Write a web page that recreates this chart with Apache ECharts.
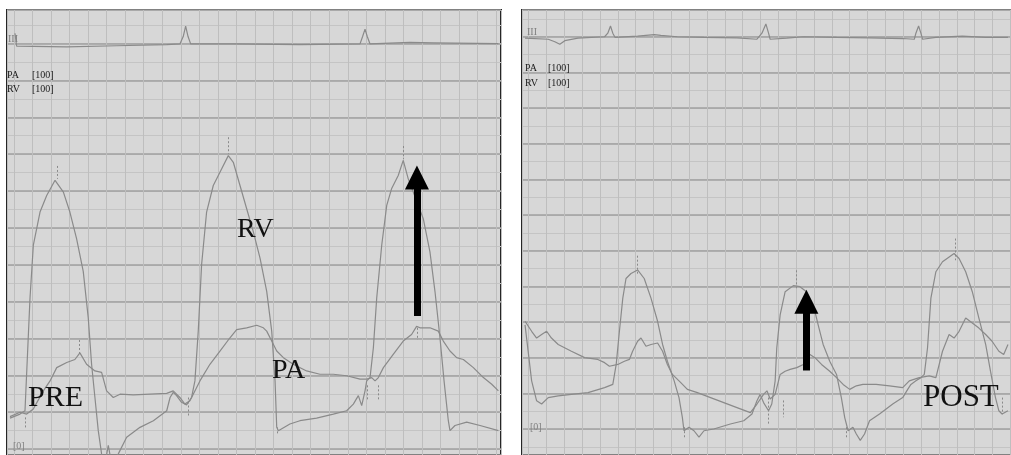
<!DOCTYPE html>
<html>
<head>
<meta charset="utf-8">
<script src="https://cdn.jsdelivr.net/npm/echarts@6/dist/echarts.min.js"></script>
<style>
  html, body { margin: 0; padding: 0; background: #fff; }
  #chart { width: 1011px; height: 455px; }
</style>
</head>
<body>
<div id="chart"></div>
<script>
// time in small squares, pressure in mmHg (ECG drawn on the same scale above 100)
const preEcg = [[0.06,112.8],[0.15,109.3],[2.85,109.1],[5.54,109.4],[8.24,109.7],[8.95,109.9],[9.13,111.9],[9.26,114.7],[9.39,111.9],[9.53,109.9],[11.83,109.9],[15.42,109.7],[18.66,109.9],[18.80,111.9],[18.93,113.9],[19.05,111.9],[19.20,109.9],[21.35,110.3],[22.61,110.2],[26.12,110.0]];
const preRv = [[-0.21,8.4],[0.33,9.5],[0.60,10.4],[0.87,41.0],[1.05,55.3],[1.41,64.3],[1.77,68.8],[2.22,72.9],[2.31,73.3],[2.67,69.7],[3.02,64.3],[3.38,57.1],[3.74,48.2],[4.01,35.6],[4.19,23.0],[4.37,14.0],[4.55,5.0],[4.73,-1.3],[4.91,-4],[5.09,1.0],[5.27,-4],[5.63,-1.3],[6.08,3.2],[6.80,5.9],[7.52,7.7],[8.24,10.4],[8.42,14.0],[8.59,15.4],[8.77,14.5],[9.04,12.7],[9.31,12.0],[9.58,14.0],[9.76,18.5],[9.94,32.0],[10.12,50.0],[10.39,64.3],[10.75,71.5],[11.11,75.1],[11.56,79.6],[11.83,77.8],[12.19,71.5],[12.55,65.2],[12.91,58.9],[13.27,51.8],[13.63,42.8],[13.90,32.0],[14.08,18.5],[14.17,5.9],[14.26,5.0],[14.88,6.8],[15.42,7.7],[16.32,8.4],[17.22,9.5],[17.94,10.4],[18.30,12.2],[18.57,14.5],[18.75,11.8],[18.93,15.8],[19.02,18.5],[19.20,19.4],[19.38,27.5],[19.56,41.0],[19.83,55.3],[20.10,66.1],[20.36,70.6],[20.72,74.2],[20.99,78.3],[21.26,73.3],[21.53,69.7],[22.07,62.5],[22.43,53.5],[22.70,42.8],[22.97,30.2],[23.19,18.5],[23.42,7.7],[23.51,5.0],[23.78,6.4],[24.41,7.3],[25.13,6.4],[26.12,5.0]];
const prePa = [[-0.21,8.8],[0.33,10.0],[0.69,9.5],[1.05,10.9],[1.59,15.8],[1.95,18.5],[2.31,22.1],[2.85,23.5],[3.29,24.3],[3.56,26.1],[3.92,23.0],[4.37,21.2],[4.73,20.8],[5.00,15.8],[5.36,14.0],[5.72,14.9],[6.44,14.7],[7.34,14.9],[8.24,15.1],[8.59,15.8],[8.95,14.0],[9.22,12.2],[9.49,13.1],[9.67,14.9],[10.03,18.5],[10.57,23.0],[11.11,26.6],[11.65,30.2],[12.01,32.4],[12.55,32.9],[13.09,33.6],[13.45,32.9],[13.63,32.0],[13.90,29.3],[14.17,26.6],[14.53,24.8],[15.06,23.0],[15.78,21.2],[16.50,20.3],[17.22,20.3],[17.94,19.9],[18.66,19.0],[19.02,19.0],[19.29,19.4],[19.47,18.5],[19.65,19.4],[19.92,22.1],[20.45,25.7],[20.99,29.3],[21.44,31.1],[21.71,33.3],[21.89,32.9],[22.43,32.9],[22.88,32.0],[23.15,29.3],[23.51,26.6],[23.87,24.8],[24.23,24.3],[24.77,22.1],[25.31,19.4],[25.76,17.6],[26.12,15.8]];
const preArrow = [[21.73,36.1],[21.73,73.7]];
// dotted peak / trough markers: [time, from, to]
const preMarks = [[2.32,76.8,73.3],[11.54,84.6,80.1],[20.97,82.2,78.7],[3.51,29.6,25.6],[21.73,32.9,29.6],[9.39,14.0,8.6],[19.03,17.3,13.5],[19.63,17.3,13.5],[0.60,8.6,5.4],[14.18,5.9,4.0]];

const postEcg = [[-0.20,109.6],[1.10,109.3],[1.47,108.6],[1.75,107.9],[2.03,108.9],[2.77,109.6],[4.26,110.0],[4.44,111.0],[4.59,113.0],[4.72,111.0],[4.85,109.8],[6.11,110.2],[7.04,110.6],[7.41,110.4],[8.34,110.0],[9.83,109.8],[11.68,109.7],[12.80,109.3],[13.08,111.0],[13.30,113.6],[13.45,111.0],[13.54,109.3],[14.47,109.6],[15.40,110.0],[17.26,109.8],[19.11,109.7],[20.97,109.5],[21.62,109.3],[21.71,111.0],[21.86,113.0],[21.99,111.0],[22.08,109.3],[22.83,109.8],[24.31,110.2],[25.62,109.8],[26.87,109.8]];
const postRv = [[-0.20,29.2],[0.17,13.5],[0.45,7.9],[0.73,7.0],[1.10,8.8],[1.66,9.3],[2.40,9.7],[3.33,10.2],[4.26,11.6],[4.72,12.5],[4.91,18.1],[5.09,27.4],[5.28,36.7],[5.46,42.2],[5.74,43.6],[6.11,44.6],[6.48,42.2],[6.86,36.7],[7.23,30.2],[7.51,23.7],[7.78,19.0],[8.16,13.5],[8.43,8.8],[8.62,3.2],[8.71,-0.5],[8.99,0.5],[9.27,-0.5],[9.55,-2.3],[9.83,-0.5],[10.38,0],[11.31,1.4],[12.06,2.3],[12.52,4.2],[12.80,7.9],[12.98,9.7],[13.17,7.4],[13.45,5.1],[13.63,7.0],[13.82,13.5],[13.91,22.7],[14.10,32.0],[14.38,38.5],[14.84,40.2],[15.21,39.9],[15.58,38.5],[15.96,34.8],[16.23,29.2],[16.51,23.7],[16.88,19.0],[17.26,15.3],[17.53,8.8],[17.72,3.2],[17.91,-0.5],[18.18,0.5],[18.37,-1.4],[18.59,-3.2],[18.83,-1.4],[19.11,2.3],[19.67,4.2],[20.41,7.0],[20.97,8.8],[21.25,11.1],[21.43,12.5],[21.71,13.5],[21.99,14.4],[22.18,15.3],[22.36,22.7],[22.55,36.7],[22.83,44.1],[23.20,46.9],[23.85,49.2],[24.13,47.8],[24.50,44.1],[24.87,38.5],[25.24,31.1],[25.62,23.7],[25.89,16.2],[26.17,8.8],[26.36,5.1],[26.54,4.2],[26.87,5.1]];
const postPa = [[-0.20,30.2],[0.17,27.4],[0.45,25.5],[0.73,26.5],[1.01,27.4],[1.28,25.5],[1.66,23.7],[2.40,21.8],[3.14,20.0],[3.88,19.5],[4.26,18.6],[4.53,17.6],[5.00,18.1],[5.37,19.0],[5.65,19.5],[5.83,21.8],[6.11,24.6],[6.30,25.5],[6.58,23.2],[6.86,23.7],[7.23,24.1],[7.51,21.8],[7.78,18.1],[8.06,15.3],[8.53,13.0],[8.90,11.1],[9.46,10.2],[10.20,8.8],[10.94,7.4],[11.68,6.0],[12.43,4.6],[12.80,7.0],[13.17,9.7],[13.36,10.7],[13.54,8.4],[13.82,9.7],[14.10,15.3],[14.38,16.2],[14.66,16.7],[15.03,17.2],[15.40,18.1],[15.77,20.9],[16.05,20.0],[16.42,18.1],[16.88,16.2],[17.26,14.4],[17.63,12.5],[18.00,11.1],[18.37,12.1],[18.74,12.5],[19.48,12.5],[20.23,12.1],[20.97,11.6],[21.34,13.5],[21.90,14.4],[22.46,14.9],[22.83,14.4],[23.20,21.8],[23.57,26.5],[23.85,25.5],[24.13,27.4],[24.50,31.1],[24.87,29.7],[25.24,28.3],[25.62,26.5],[25.98,24.6],[26.36,21.8],[26.63,20.9],[26.87,23.7]];
const postArrow = [[15.57,16.4],[15.57,35.7]];
const postMarks = [[6.09,48.6,43.1],[15.0,44.5,39.5],[23.92,53.4,47.3],[8.71,0.5,-2.3],[13.45,8.8,1.3],[14.29,8.0,3.3],[17.8,0.5,-2.3],[26.54,8.8,4.1]];

const chart = echarts.init(document.getElementById('chart'));

const off = { axisLine: { show: false }, axisTick: { show: false }, axisLabel: { show: false } };
const serif = '"Liberation Serif", "Times New Roman", serif';

function xAx(grid, min, max, n) {
  return Object.assign({ gridIndex: grid, type: 'value', min: min, max: max, splitNumber: n,
    splitLine: { show: true, lineStyle: { color: '#bebebe', width: 1 } } }, off);
}
function yAx(grid, min, max, n, color, width) {
  return Object.assign({ gridIndex: grid, type: 'value', min: min, max: max, splitNumber: n,
    splitLine: { show: true, lineStyle: { color: color, width: width } } }, off);
}
function trace(data, xi, yi) {
  return { type: 'line', data: data, xAxisIndex: xi, yAxisIndex: yi, symbol: 'none', silent: true,
    lineStyle: { color: '#8a8a8a', width: 1.2 }, z: 3 };
}
function arrow(pts) {
  return { silent: true, animation: false, symbol: ['none', 'triangle'], symbolSize: 24,
    label: { show: false }, lineStyle: { color: '#000', width: 7, type: 'solid', opacity: 1 },
    data: [[{ coord: pts[0] }, { coord: pts[1] }]] };
}
function marks(list) {
  return { silent: true, animation: false, symbol: 'none',
    label: { show: false }, lineStyle: { color: '#8a8a8a', width: 1, type: [2, 2], opacity: 1 },
    data: list.map(function (m) { return [{ coord: [m[0], m[1]] }, { coord: [m[0], m[2]] }]; }) };
}
function txt(x, y, s, size, color) {
  return { type: 'text', x: x, y: y, z: 10, silent: true,
    style: { text: s, font: size + 'px ' + serif, fill: color, verticalAlign: 'middle' } };
}

const panel = { show: true, backgroundColor: '#d7d7d7', borderColor: '#262626', borderWidth: 2 };

const option = {
  animation: false,
  backgroundColor: '#fff',
  grid: [
    Object.assign({ left: 7, right: 510, top: 10, bottom: -3 }, panel),
    Object.assign({ left: 522, right: -3, top: 10, bottom: -3 }, panel)
  ],
  xAxis: [xAx(0, -0.37, 26.26, 26), xAx(1, -0.37, 27.04, 27)],
  yAxis: [
    yAx(0, -1.6, 119.1, 24, '#c4c4c4', 1),
    yAx(0, -1.6, 119.1, 12, '#a0a0a0', 1.5),
    yAx(1, -7.3, 117.5, 24, '#c4c4c4', 1),
    yAx(1, -7.3, 117.5, 12, '#a0a0a0', 1.5)
  ],
  series: [
    trace(preEcg, 0, 1),
    Object.assign(trace(prePa, 0, 1), { markLine: marks(preMarks) }),
    Object.assign(trace(preRv, 0, 1), { markLine: arrow(preArrow) }),
    trace(postEcg, 1, 3),
    Object.assign(trace(postPa, 1, 3), { markLine: marks(postMarks) }),
    Object.assign(trace(postRv, 1, 3), { markLine: arrow(postArrow) })
  ],
  graphic: [
    txt(8, 39, 'III', 10, '#808080'),
    txt(7, 75, 'PA', 10, '#1a1a1a'),
    txt(32, 75, '[100]', 10, '#1a1a1a'),
    txt(7, 89, 'RV', 10, '#1a1a1a'),
    txt(32, 89, '[100]', 10, '#1a1a1a'),
    txt(13, 446, '[0]', 10, '#808080'),
    txt(28, 398, 'PRE', 30, '#111'),
    txt(237, 230, 'RV', 28, '#111'),
    txt(272, 371, 'PA', 28, '#111'),
    txt(527, 32, 'III', 10, '#808080'),
    txt(525, 68, 'PA', 10, '#1a1a1a'),
    txt(548, 68, '[100]', 10, '#1a1a1a'),
    txt(525, 83, 'RV', 10, '#1a1a1a'),
    txt(548, 83, '[100]', 10, '#1a1a1a'),
    txt(530, 427, '[0]', 10, '#808080'),
    txt(923, 398, 'POST', 31, '#111')
  ]
};
chart.setOption(option);
</script>
</body>
</html>
